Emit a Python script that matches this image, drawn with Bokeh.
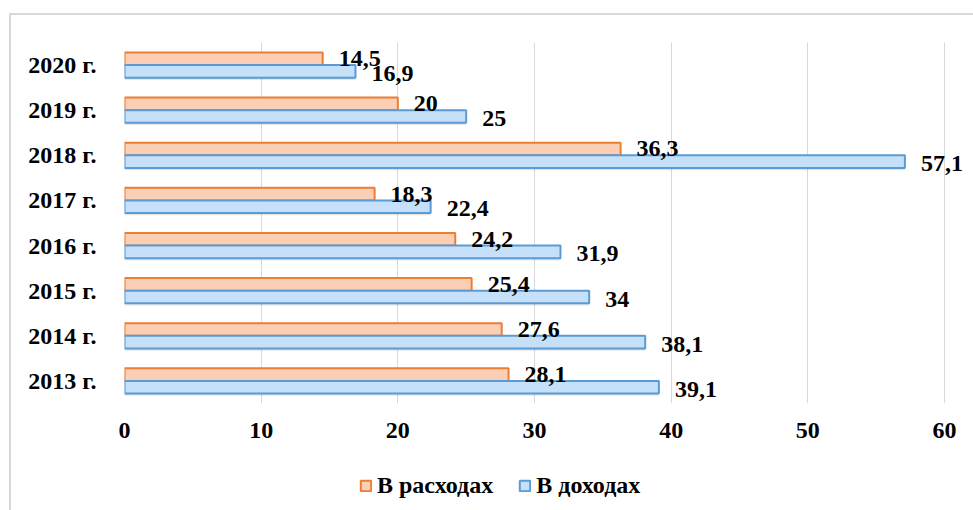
from bokeh.plotting import figure
from bokeh.layouts import column
from bokeh.models import ColumnDataSource, LabelSet, FactorRange, Range1d, Legend, LegendItem, FixedTicker
from bokeh.transform import dodge
from bokeh.core.properties import value
from bokeh.embed import file_html
from bokeh.resources import INLINE

# Share of the item in budget expenses / revenues, per year
years = ["2013 г.", "2014 г.", "2015 г.", "2016 г.", "2017 г.", "2018 г.", "2019 г.", "2020 г."]
expenses = [28.1, 27.6, 25.4, 24.2, 18.3, 36.3, 20, 14.5]
revenues = [39.1, 38.1, 34, 31.9, 22.4, 57.1, 25, 16.9]
x_ticks = [0, 10, 20, 30, 40, 50, 60]
series_names = ["В расходах", "В доходах"]


def ru(v):
    return ("%g" % v).replace(".", ",")


src = ColumnDataSource(dict(
    year=years,
    exp=expenses,
    rev=revenues,
    exp_txt=[ru(v) for v in expenses],
    rev_txt=[ru(v) for v in revenues],
))

FONT = "Liberation Serif"
FS = "24px"
EXP_FILL, EXP_LINE = "#fbcfb6", "#ed7d31"
REV_FILL, REV_LINE = "#c6e0fa", "#5b9bd5"

# frame runs to the right edge so the value labels past 60 stay visible
p = figure(
    width=962, height=440,
    y_range=FactorRange(*years, range_padding=0),
    x_range=Range1d(0, 62.12),
    output_backend="svg", toolbar_location=None,
    min_border_left=113, min_border_right=0, min_border_top=27, min_border_bottom=52,
)
p.outline_line_color = None
p.background_fill_color = "white"
p.border_fill_color = "white"

BH = 0.28
OFF = 0.14

# soft shadows under the bars
for fld, off in (("exp", OFF), ("rev", -OFF)):
    p.hbar(y=dodge("year", off - 0.05, range=p.y_range), right=fld, left=0, height=BH,
           source=src, fill_color="#000000", fill_alpha=0.10, line_color=None)

p.hbar(y=dodge("year", OFF, range=p.y_range), right="exp", left=0, height=BH,
       source=src, fill_color=EXP_FILL, line_color=EXP_LINE, line_width=2)
p.hbar(y=dodge("year", -OFF, range=p.y_range), right="rev", left=0, height=BH,
       source=src, fill_color=REV_FILL, line_color=REV_LINE, line_width=2)

common = dict(source=src, x_offset=16, text_align="left", text_baseline="middle",
              text_font=value(FONT), text_font_size=FS, text_font_style="bold",
              text_color="black")
p.add_layout(LabelSet(x="exp", y=dodge("year", OFF, range=p.y_range), text="exp_txt", **common))
p.add_layout(LabelSet(x="rev", y=dodge("year", -OFF, range=p.y_range), text="rev_txt",
                      y_offset=-2, **common))

# axes
p.xaxis.ticker = FixedTicker(ticks=x_ticks)
p.xaxis.axis_line_color = None
p.xaxis.major_tick_line_color = None
p.xaxis.minor_tick_line_color = None
p.xaxis.major_label_standoff = 13
p.yaxis.axis_line_color = None
p.yaxis.major_tick_line_color = None
p.yaxis.minor_tick_line_color = None
p.yaxis.major_label_standoff = 22
for ax in (p.xaxis, p.yaxis):
    ax.major_label_text_font = FONT
    ax.major_label_text_font_size = FS
    ax.major_label_text_font_style = "bold"
    ax.major_label_text_color = "black"

p.xgrid.grid_line_color = "#d9d9d9"
p.xgrid.grid_line_width = 1
p.ygrid.grid_line_color = None

# legend strip below the chart (its frame lines up with the chart frame)
lg = figure(
    width=962, height=55, x_range=Range1d(0, 1), y_range=Range1d(0, 1),
    output_backend="svg", toolbar_location=None, min_border=0,
)
lg.outline_line_color = None
lg.axis.visible = False
lg.grid.visible = False
swatch = ColumnDataSource(dict(y=[float("nan")], right=[float("nan")]))
k_exp = lg.hbar(y="y", right="right", left=0, height=0.1, source=swatch,
                fill_color=EXP_FILL, line_color=EXP_LINE, line_width=2)
k_rev = lg.hbar(y="y", right="right", left=0, height=0.1, source=swatch,
                fill_color=REV_FILL, line_color=REV_LINE, line_width=2)

legend = Legend(
    items=[LegendItem(label=series_names[0], renderers=[k_exp]),
           LegendItem(label=series_names[1], renderers=[k_rev])],
    orientation="horizontal", location=(235, 11),
    glyph_width=13, glyph_height=13, label_standoff=5, spacing=25,
    padding=0, margin=0, border_line_alpha=0, background_fill_alpha=0,
    label_text_font=FONT, label_text_font_size=FS, label_text_font_style="bold",
    label_text_color="black",
)
lg.add_layout(legend)

page = column(p, lg, spacing=0)
page.margin = (13, 0, 0, 9)
page.styles = {"border-top": "2px solid #d9d9d9", "border-left": "2px solid #d9d9d9"}

open("out.html", "w").write(file_html(page, INLINE))
